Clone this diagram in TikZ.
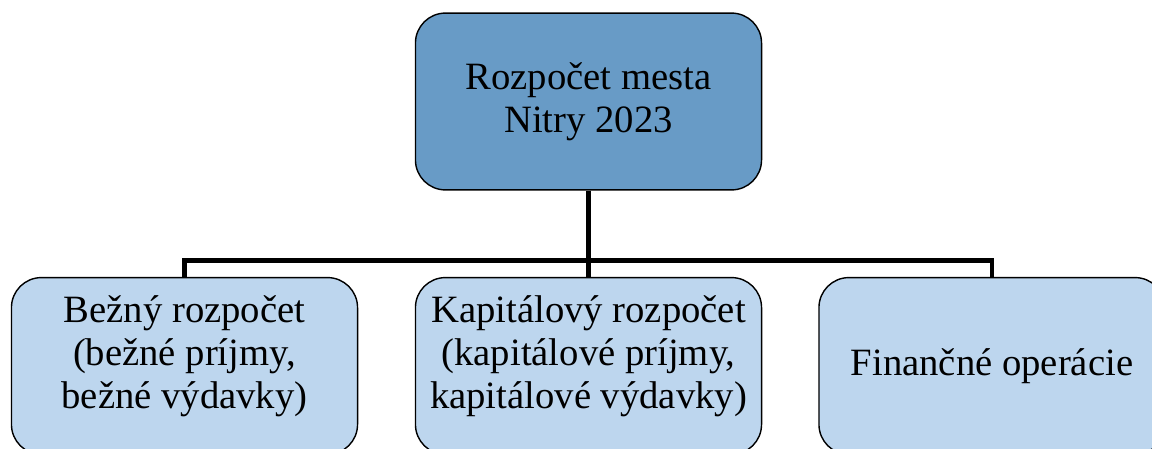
\documentclass[tikz,border=0pt]{standalone}
\usepackage{fontspec}
\setmainfont{Liberation Serif}
\usepackage{tikz}
\usepackage{color}

\definecolor{topblue}{RGB}{104,155,198}
\definecolor{lightblue}{RGB}{189,214,238}

\begin{document}
\begin{tikzpicture}[x=0.025cm,y=-0.025cm,
  box/.style={draw=black, line width=1pt, rounded corners=0.75cm,
    minimum width=8.65cm, minimum height=4.42cm, align=center,
    font=\fontsize{27.5}{30.5}\selectfont},
  boxtext/.style={align=center, font=\fontsize{27.5}{30.5}\selectfont, yshift=0.25cm},
  link/.style={black, line width=3.5pt}]
\useasboundingbox (0,0) rectangle (1152,448);
\clip (0,0) rectangle (1152,448);

\node[box, fill=topblue] (budget) at (588.5,101.5) {Rozpočet mesta\\Nitry 2023};

\node[box, fill=lightblue, label={[boxtext]center:{Bežný rozpočet\\(bežné príjmy,\\bežné výdavky)}}] (current) at (184.5,366) {};
\node[box, fill=lightblue, label={[boxtext]center:{Kapitálový rozpočet\\(kapitálové príjmy,\\kapitálové výdavky)}}] (capital) at (588.5,366) {};
\node[box, fill=lightblue] (finance) at (992,366) {Finančné operácie};

\draw[link] (budget.south) -- ++(0,70) -| (current.north);
\draw[link] (budget.south) -- ++(0,70) -| (finance.north);
\draw[link] (budget.south) -- (capital.north);

\end{tikzpicture}
\end{document}
